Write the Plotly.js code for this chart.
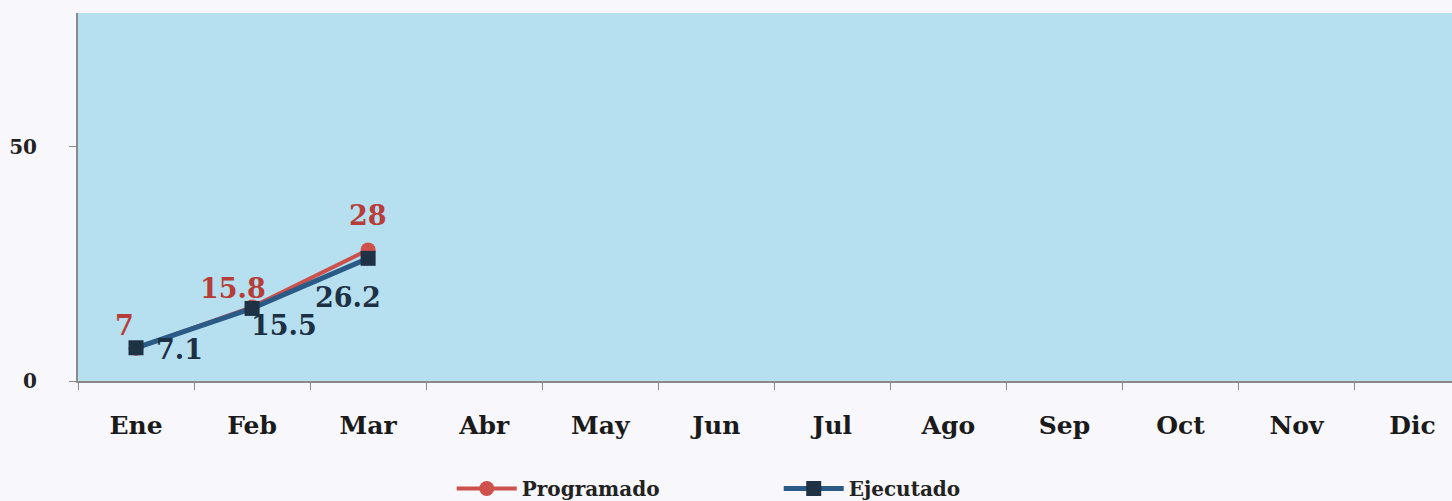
<!DOCTYPE html>
<html>
<head>
<meta charset="utf-8">
<script src="https://cdn.plot.ly/plotly-3.0.1.min.js"></script>
<style>html,body{margin:0;padding:0;background:#f8f7fb;}#chart{width:1452px;height:501px;}</style>
</head>
<body>
<div id="chart"></div>
<script>
const months = ['Ene','Feb','Mar','Abr','May','Jun','Jul','Ago','Sep','Oct','Nov','Dic'];
const programado = [7, 15.8, 28];
const ejecutado = [7.1, 15.5, 26.2];

const serif = 'DejaVu Serif, Liberation Serif, serif';
const progShift = [[-12,-23],[-19,-19],[0,-34]];
const ejecShift = [[43,2],[32,17],[-20,39]];

const annotations = [];
programado.forEach((v,i)=>{
  annotations.push({x: months[i], y: v, xref:'x', yref:'y', text: String(v), showarrow:false,
    xshift: progShift[i][0], yshift: -progShift[i][1],
    font:{family:serif, size:27, color:'#b63d38', weight:'bold'}});
});
ejecutado.forEach((v,i)=>{
  annotations.push({x: months[i], y: v, xref:'x', yref:'y', text: String(v), showarrow:false,
    xshift: ejecShift[i][0], yshift: -ejecShift[i][1],
    font:{family:serif, size:27, color:'#1d3044', weight:'bold'}});
});

const traces = [
  {x: months.slice(0, programado.length), y: programado, name:'Programado', type:'scatter', mode:'lines+markers',
   line:{color:'#cc514c', width:4}, marker:{symbol:'circle', size:15, color:'#d0504a'}},
  {x: months.slice(0, ejecutado.length), y: ejecutado, name:'Ejecutado', type:'scatter', mode:'lines+markers',
   line:{color:'#2a5a86', width:5}, marker:{symbol:'square', size:15, color:'#1f3145'}}
];

const layout = {
  width:1452, height:501,
  margin:{l:78, r:0, t:13, b:120, autoexpand:false},
  paper_bgcolor:'#f8f7fb', plot_bgcolor:'#b6dff0',
  showlegend:true,
  legend:{orientation:'h', x:0.272, xanchor:'left', y:-0.345, yanchor:'bottom',
    font:{family:serif, size:20, color:'#222', weight:'bold'}, itemwidth:60, entrywidth:252, bgcolor:'rgba(0,0,0,0)'},
  xaxis:{type:'category', categoryorder:'array', categoryarray:months, tickvals:months, range:[-0.5, 11.34],
    automargin:false,
    showline:true, linecolor:'#8a8a8a', linewidth:2, ticks:'outside', tickson:'boundaries', ticklen:7, tickcolor:'#8a8a8a',
    showgrid:false, zeroline:false,
    tickfont:{family:serif, size:25, color:'#1a1a1a', weight:'bold'}, ticklabelstandoff:21},
  yaxis:{range:[0, 78.6], tickvals:[0,50], automargin:false, showline:true, linecolor:'#8a8a8a', linewidth:2, ticks:'outside', ticklen:7, tickcolor:'#8a8a8a',
    showgrid:false, zeroline:false,
    tickfont:{family:serif, size:20, color:'#222', weight:'bold'}, ticklabelstandoff:28},
  annotations: annotations
};

Plotly.newPlot('chart', traces, layout, {displayModeBar:false, staticPlot:true});
</script>
</body>
</html>
